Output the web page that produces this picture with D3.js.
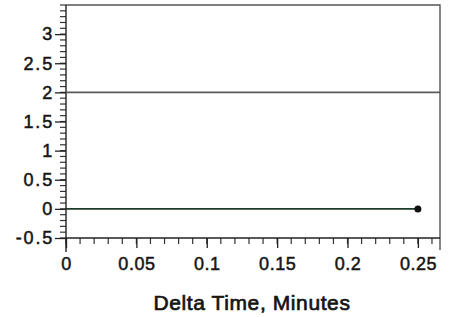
<!DOCTYPE html>
<html>
<head>
<meta charset="utf-8">
<script src="https://cdn.jsdelivr.net/npm/d3@7"></script>
<style>
  body { margin: 0; background: #fff; }
  text { font-family: "Liberation Sans", Arial, sans-serif; fill: #151515; }
</style>
</head>
<body>
<div id="chart"></div>
<script>
'use strict';

// data
var times = [0, 0.25];
var values = [0, 0];
var limitValue = 2;
var xTicks = [0, 0.05, 0.1, 0.15, 0.2, 0.25];
var yTicks = [-0.5, 0, 0.5, 1, 1.5, 2, 2.5, 3];
var xLabel = 'Delta Time, Minutes';

var W = 451, H = 317;
var plotLeft = 66, plotRight = 440, plotTop = 5, plotBottom = 238;

var svg = d3.select('#chart').append('svg')
    .attr('width', W)
    .attr('height', H);

var x = d3.scaleLinear().domain([0, 0.2657]).range([plotLeft, plotRight]);
var y = d3.scaleLinear().domain([-0.5, 3.5]).range([plotBottom, plotTop]);

function fmt(d) { return String(+d.toFixed(2)); }

// frame (top + right)
svg.append('path')
    .attr('d', 'M' + plotLeft + ',' + plotTop + 'H' + plotRight + 'V250')
    .attr('fill', 'none')
    .attr('stroke', '#555')
    .attr('stroke-width', 1.4);

// minor ticks
var xMinor = d3.range(0, 0.2657, 0.01);
svg.append('g').selectAll('line')
    .data(xMinor)
    .enter().append('line')
    .attr('x1', function(d) { return x(d); })
    .attr('x2', function(d) { return x(d); })
    .attr('y1', plotBottom)
    .attr('y2', plotBottom + 6)
    .attr('stroke', '#333')
    .attr('stroke-width', 1.2);

var yMinor = d3.range(-0.5, 3.51, 0.1);
svg.append('g').selectAll('line')
    .data(yMinor)
    .enter().append('line')
    .attr('x1', plotLeft - 6)
    .attr('x2', plotLeft)
    .attr('y1', function(d) { return y(d); })
    .attr('y2', function(d) { return y(d); })
    .attr('stroke', '#333')
    .attr('stroke-width', 1.2);

// axes
var xAxis = svg.append('g')
    .attr('transform', 'translate(0,' + plotBottom + ')')
    .call(d3.axisBottom(x).tickValues(xTicks).tickSize(10).tickPadding(9).tickFormat(fmt));
xAxis.select('.domain').attr('d', 'M' + plotLeft + ',0H' + plotRight).attr('stroke', '#222').attr('stroke-width', 1.4);
xAxis.selectAll('.tick line').attr('stroke', '#222').attr('stroke-width', 1.3);
xAxis.selectAll('text')
    .style('font-size', '18px')
    .style('letter-spacing', '0.5px')
    .attr('stroke', '#151515')
    .attr('stroke-width', 0.5);

var yAxis = svg.append('g')
    .attr('transform', 'translate(' + plotLeft + ',0)')
    .call(d3.axisLeft(y).tickValues(yTicks).tickSize(11).tickPadding(1).tickFormat(fmt));
yAxis.select('.domain').attr('d', 'M0,' + plotTop + 'V252').attr('stroke', '#222').attr('stroke-width', 1.4);
yAxis.selectAll('.tick line').attr('stroke', '#222').attr('stroke-width', 1.3);
yAxis.selectAll('text')
    .style('font-size', '18px')
    .style('letter-spacing', '1.8px')
    .attr('stroke', '#151515')
    .attr('stroke-width', 0.5);

// limit line
svg.append('line')
    .attr('x1', plotLeft)
    .attr('x2', plotRight)
    .attr('y1', y(limitValue))
    .attr('y2', y(limitValue))
    .attr('stroke', '#5a5a5a')
    .attr('stroke-width', 1.8);

// series
var line = d3.line()
    .x(function(d, i) { return x(times[i]); })
    .y(function(d) { return y(d); });
svg.append('path')
    .datum(values)
    .attr('d', line)
    .attr('fill', 'none')
    .attr('stroke', '#1e3a2a')
    .attr('stroke-width', 1.8);

svg.append('circle')
    .attr('cx', x(times[times.length - 1]))
    .attr('cy', y(values[values.length - 1]))
    .attr('r', 3.5)
    .attr('fill', '#111');

// x label
svg.append('text')
    .attr('x', 252)
    .attr('y', 310)
    .attr('text-anchor', 'middle')
    .style('font-size', '21px')
    .style('letter-spacing', '0.6px')
    .attr('stroke', '#151515')
    .attr('stroke-width', 0.7)
    .text(xLabel);
</script>
</body>
</html>
